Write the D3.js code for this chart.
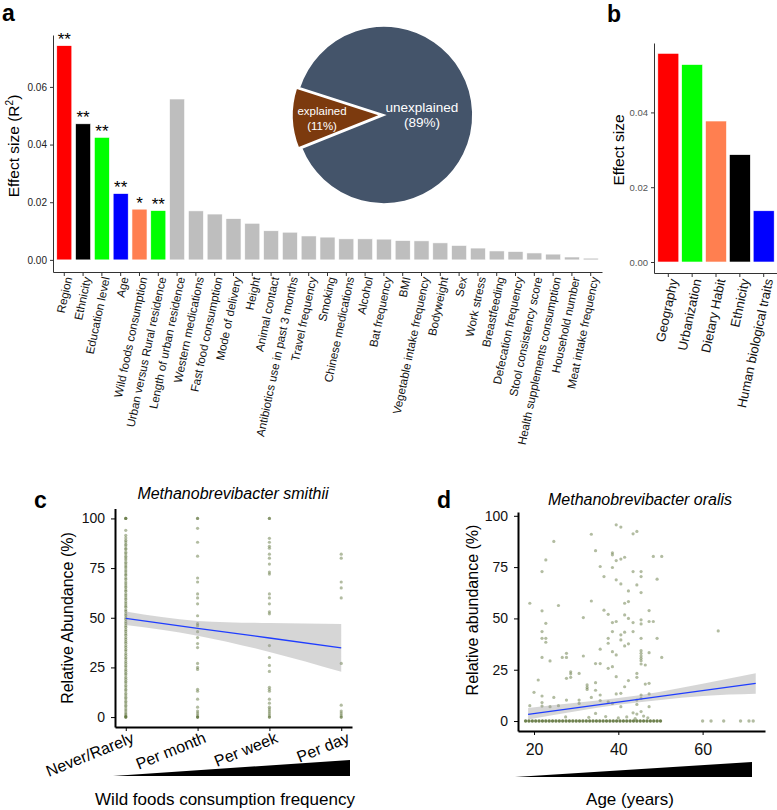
<!DOCTYPE html>
<html><head><meta charset="utf-8">
<script src="https://cdn.jsdelivr.net/npm/d3@7"></script>
<style>body{margin:0;background:#fff} text{font-family:"Liberation Sans",Arial,sans-serif}</style>
</head><body><svg id="fig" width="777" height="810"></svg>
<script>
// ---------- Panel a data ----------
const aCategories = ["Region","Ethnicity","Education level","Age","Wild foods consumption","Urban versus Rural residence","Length of urban residence","Western medications","Fast food consumption","Mode of delivery","Height","Animal contact","Antibiotics use in past 3 months","Travel frequency","Smoking","Chinese medications","Alcohol","Bat  frequency","BMI","Vegetable intake frequency","Bodyweight","Sex","Work stress","Breastfeeding","Defecation frequency","Stool consistency score","Health supplements consumption","Household number","Meat intake frequency"];
const aValues = [0.0743,0.0472,0.0425,0.0230,0.0176,0.0171,0.0558,0.0170,0.0159,0.0143,0.0127,0.0101,0.0096,0.0083,0.0079,0.0073,0.0073,0.0072,0.0067,0.0066,0.0059,0.0050,0.0041,0.0031,0.0029,0.0024,0.0020,0.0010,0.0006];
const aStars = ["**","**","**","**","*","**","","","","","","","","","","","","","","","","","","","","","","",""];
const aTicks = [0,0.02,0.04,0.06];
const pieLabels = ["explained","unexplained"];
const pieValues = [11,89];
// ---------- Panel b data ----------
const bCategories = ["Geography","Urbanization","Dietary Habit","Ethnicity","Human biological traits"];
const bValues = [0.0558,0.0528,0.0377,0.0287,0.0137];
const bTicks = [0,0.02,0.04];
// ---------- Panel c data ----------
const cCategories = ["Never/Rarely","Per month","Per week","Per day"];
const cNever = [100,100,100,94,91.5,90.2,89,88.1,87,86.2,85,84.3,83,82.2,81,80.1,79.2,78,77.1,76,75.2,74,73.1,72,71.3,70,69.2,68,67.1,66,65.2,64,63.3,62,61.1,60,59.2,58,57.1,56,55.3,54,53.2,52,51.1,50,49.2,48,47.1,46,45.2,44,43.1,42,41.2,40,39.1,38,37.2,36,35.1,34,33.2,32,31.1,30,29.2,28,27.1,26,25.2,24,23.1,22,21.2,20,19.1,18,17.2,16,15.1,14,13.2,12,11.1,10,9.2,8,7.1,6,5.2,4,3.1,2,1.2,0.5,0,0,0];
const cMonth = [100,100,95,88,81,70,68,62,60,57,51,47,46,43,40,37,35,27,25,24,14,13,9,5,3,2,1,0,0,0];
const cWeek = [100,100,90,88,86,85,82,80,77,73,72,62,60,57,53,52,36,30,26,23,15,14,13,9,7,5,4,3,2,1,0,0];
const cDay = [82,80,68,65,60,27,6,3,2,1,0,0];
const cFit = [49.7,44.7,39.8,34.8];
const cBandLow = [46.4,41.0,32.8,22.8];
const cBandHigh = [53.1,48.4,47.3,46.9];
const cTicks = [0,25,50,75,100];
// ---------- Panel d data ----------
const dPoints = [[19,57.4],[19,7.5],[20,14],[21,20],[21.9,72.8],[22.8,78.5],[21.9,53.7],[21.9,43.6],[21.9,40.3],[22.8,40.3],[22.8,47.6],[22.8,38.4],[21.9,31],[23.8,29.3],[21.9,12.2],[21.9,9],[21.9,7.3],[24.7,87.5],[24.7,11.5],[23.8,7],[25.8,56.3],[25.8,7.5],[26.7,31],[27.7,33],[27.7,31],[27.7,20.8],[27.7,10.2],[28.7,24],[28.7,23],[28.7,21.3],[30.7,23.2],[30.7,10.2],[30.7,8.6],[31.7,50.4],[31.7,31.7],[32.6,17.6],[32.6,16.4],[32.6,15.4],[33.6,91],[33.6,58.5],[33.6,11.5],[34.6,83],[34.6,28],[34.6,18.7],[34.6,15],[34.6,3.7],[35.7,75.3],[35.7,35],[35.7,28],[35.7,12.7],[35.7,10],[36.6,70.4],[36.6,54],[37.6,52],[37.6,40.3],[37.6,37.9],[37.6,25.7],[37.6,9.4],[38.6,82],[38.6,81],[38.6,74.8],[38.6,48],[38.6,43.6],[38.6,33.8],[38.6,26.5],[38.6,8.6],[39.5,95.6],[39.5,78.2],[39.5,68.8],[39.5,48.5],[39.5,32.2],[39.5,21.6],[39.5,13.2],[40.6,94.5],[40.6,78.9],[40.6,66.8],[40.6,42],[40.6,39.5],[40.6,13.5],[40.6,7],[41.5,79.8],[41.5,57.4],[41.5,51.7],[41.5,43.3],[41.5,36.6],[41.5,16.7],[42.4,58.2],[42.4,50],[42.4,37.6],[42.4,19.7],[42.4,63.4],[43.5,91.2],[43.5,72.8],[43.5,48],[43.5,43.6],[43.5,4],[44.4,92.4],[44.4,66.3],[44.4,23.2],[44.4,21.3],[44.4,10.2],[44.4,8.1],[44.4,3.4],[45.4,72.8],[45.4,70.4],[45.4,62.6],[45.4,49.3],[45.4,47.3],[45.4,40.3],[45.4,34.3],[45.4,33],[45.4,31.7],[45.4,30.6],[45.4,29.4],[45.4,27.8],[45.4,12.7],[45.4,11],[45.4,4.6],[46.4,27.3],[46.4,18],[47.3,53.8],[47.3,48.5],[47.3,33.3],[47.3,18.4],[47.3,13.2],[47.3,7],[48.3,80.2],[48.3,48.5],[49.2,69.1],[49.2,40.3],[50.3,80.2],[50.3,31],[63.7,43.9],[27.5,2],[33,1.8],[37,2.2],[40,1.5],[42,2],[44,1.2],[46,2.4],[47,1.6]];
const dZeroAges = [18,18.8,19.6,20.4,21.2,22,22.8,23.6,24.4,25.2,26,26.8,27.6,28.4,29.2,30,30.8,31.6,32.4,33.2,34,34.8,35.6,36.4,37.2,38,38.8,39.6,40.4,41.2,42,42.8,43.6,44.4,45.2,46,46.8,47.6,48.4,49.2,50,60,62,65,69,71,72];
const dFitAges = [18.6,72.6];
const dFit = [3.3,18.4];
const dBandAges = [18.6,30,40,50,60,72.6];
const dBandLow = [0.8,4.8,7.9,10.3,12.2,13.3];
const dBandHigh = [6.4,8.9,11.2,14.3,18.2,23.3];
const dTicksX = [20,40,60];
const dTicksY = [0,25,50,75,100];

// ---------- styles ----------
const aColorMap = {0:"#ff0000",1:"#000000",2:"#00ff00",3:"#0000ff",4:"#ff7f50",5:"#00ff00"};
const barGray = "#bebebe";
const bColors = ["#ff0000","#00ff00","#ff7f50","#000000","#0000ff"];
const ptColor = "#556b2f";
const fitColor = "#1f3dff";

const svg = d3.select("#fig");

function panelLabel(t,x,y){ svg.append("text").attr("x",x).attr("y",y).attr("font-size",23).attr("font-weight","bold").text(t); }

// ================= Panel a =================
{
  const xa = d3.scaleBand().domain(aCategories).range([53,602]).paddingInner(0.2).paddingOuter(0.2);
  const ya = d3.scaleLinear().domain([-0.0042,0.078]).range([272,35]);
  const g = svg.append("g");
  g.selectAll("rect").data(aValues).join("rect")
    .attr("x",(d,i)=>xa(aCategories[i])).attr("width",xa.bandwidth())
    .attr("y",d=>ya(d)).attr("height",d=>ya(0)-ya(d))
    .attr("fill",(d,i)=>aColorMap[i]||barGray).attr("stroke","#fff").attr("stroke-width",0.6);
  g.selectAll("text.star").data(aStars).join("text").attr("class","star")
    .attr("x",(d,i)=>xa(aCategories[i])+xa.bandwidth()/2).attr("y",(d,i)=>ya(aValues[i])-0.5)
    .attr("text-anchor","middle").attr("font-size",17).text(d=>d);
  const ax = g.append("g").attr("transform","translate(0,272)")
    .call(d3.axisBottom(xa).tickSize(4).tickSizeOuter(0));
  ax.select(".domain").attr("stroke","#333");
  ax.selectAll(".tick line").attr("stroke","#333");
  ax.selectAll("text").attr("font-size",11.6).attr("fill","#111").attr("text-anchor","end")
    .attr("transform","translate(4,5) rotate(-78)").attr("x",0).attr("y",0).attr("dy","0.35em");
  const ay = g.append("g").attr("transform","translate(53,0)")
    .call(d3.axisLeft(ya).tickValues(aTicks).tickFormat(d3.format(".2f")).tickSize(3).tickSizeOuter(0));
  ay.select(".domain").attr("stroke","#333");
  ay.selectAll(".tick line").attr("stroke","#333");
  ay.selectAll("text").attr("font-size",10).attr("fill","#222");
  const yt = svg.append("text").attr("transform","translate(19,146) rotate(-90)").attr("text-anchor","middle").attr("font-size",15.5);
  yt.append("tspan").text("Effect size (R");
  yt.append("tspan").attr("font-size",10).attr("dy",-6).text("2");
  yt.append("tspan").attr("dy",6).text(")");
  panelLabel("a",2,21);

  // pie
  const cx=384, cy=115, r=89;
  const a0 = 248.2*Math.PI/180;
  const pie = d3.pie().sort(null).startAngle(a0).endAngle(a0+2*Math.PI);
  const arcs = pie(pieValues);
  const arc = d3.arc().innerRadius(0).outerRadius(r);
  const pieColors = ["#7c3a0e","#44546a"];
  const pg = svg.append("g").attr("transform",`translate(${cx},${cy})`);
  pg.selectAll("path").data(arcs).join("path")
    .attr("d",arc).attr("fill",(d,i)=>pieColors[i]).attr("stroke","#fff").attr("stroke-width",1.8)
    .attr("transform",(d,i)=>{ if(i!==0) return null; const m=(d.startAngle+d.endAngle)/2; return `translate(${3*Math.sin(m)},${-3*Math.cos(m)})`; });
  const labR = [62,38], fs=[11.5,13.5];
  arcs.forEach((d,i)=>{
    const c = d3.arc().innerRadius(labR[i]).outerRadius(labR[i]).centroid(d);
    const t = pg.append("text").attr("text-anchor","middle").attr("fill","#fff").attr("font-size",fs[i]);
    t.append("tspan").attr("x",c[0]).attr("y",c[1]-2).text(pieLabels[i]);
    t.append("tspan").attr("x",c[0]).attr("y",c[1]+13).text("("+pieValues[i]+"%)");
  });
}

// ================= Panel b =================
{
  const xb = d3.scaleBand().domain(bCategories).range([654,778]).paddingInner(0.12).paddingOuter(0.16);
  const yb = d3.scaleLinear().domain([-0.00294,0.05856]).range([273,43]);
  const g = svg.append("g");
  g.selectAll("rect").data(bValues).join("rect")
    .attr("x",(d,i)=>xb(bCategories[i])).attr("width",xb.bandwidth())
    .attr("y",d=>yb(d)).attr("height",d=>yb(0)-yb(d))
    .attr("fill",(d,i)=>bColors[i]).attr("stroke","#fff").attr("stroke-width",0.6);
  const ax = g.append("g").attr("transform","translate(0,273)")
    .call(d3.axisBottom(xb).tickSize(4).tickSizeOuter(0));
  ax.select(".domain").attr("stroke","#333");
  ax.selectAll(".tick line").attr("stroke","#333");
  ax.selectAll("text").attr("font-size",13).attr("fill","#111").attr("text-anchor","end")
    .attr("transform","translate(5,6) rotate(-78)").attr("x",0).attr("y",0).attr("dy","0.35em");
  const ay = g.append("g").attr("transform","translate(654,0)")
    .call(d3.axisLeft(yb).tickValues(bTicks).tickFormat(d3.format(".2f")).tickSize(3).tickSizeOuter(0));
  ay.select(".domain").attr("stroke","#333");
  ay.selectAll(".tick line").attr("stroke","#333");
  ay.selectAll("text").attr("font-size",9.5).attr("fill","#555");
  svg.append("text").attr("transform","translate(624,150) rotate(-90)").attr("text-anchor","middle").attr("font-size",15.5).text("Effect size");
  panelLabel("b",607,22);
}

// ================= Panel c =================
{
  const xc = d3.scaleLinear().domain([0.85,4.15]).range([115,352]);
  const yc = d3.scaleLinear().domain([-5,105]).range([727,508.5]);
  const g = svg.append("g");
  const band = d3.area().x((d,i)=>xc(i+1)).y0((d,i)=>yc(cBandLow[i])).y1((d,i)=>yc(cBandHigh[i])).curve(d3.curveMonotoneX);
  const cols = [cNever,cMonth,cWeek,cDay];
  cols.forEach((arr,k)=>{
    g.append("g").selectAll("circle").data(arr).join("circle")
      .attr("cx",xc(k+1)).attr("cy",d=>yc(d)).attr("r",1.6)
      .attr("fill",ptColor).attr("fill-opacity",0.45);
  });
  g.append("path").datum(cFit).attr("d",band).attr("fill","#999").attr("fill-opacity",0.4);
  g.append("path").datum(cFit).attr("d",d3.line().x((d,i)=>xc(i+1)).y(d=>yc(d)))
    .attr("fill","none").attr("stroke",fitColor).attr("stroke-width",1.3);
  const ax = g.append("g").attr("transform","translate(0,727)")
    .call(d3.axisBottom(xc).tickValues([1,2,3,4]).tickFormat(d=>cCategories[d-1]).tickSize(4).tickSizeOuter(0));
  ax.select(".domain").attr("stroke","#000").attr("stroke-width",2);
  ax.selectAll("text").attr("font-size",16).attr("fill","#000").attr("text-anchor","end")
    .attr("transform","translate(9,15) rotate(-22)").attr("x",0).attr("y",0).attr("dy","0");
  const ay = g.append("g").attr("transform","translate(115,0)")
    .call(d3.axisLeft(yc).tickValues(cTicks).tickSize(4).tickSizeOuter(0));
  ay.select(".domain").attr("stroke","#000").attr("stroke-width",2);
  ay.selectAll("text").attr("font-size",14).attr("fill","#111").attr("dx",-3);
  const x0=xc.range()[0]-2, x1=xc.range()[1]-2;
  g.append("path").attr("d",`M${x0},776 L${x1},776 L${x1},760 Z`).attr("fill","#000");
  svg.append("text").attr("x",233).attr("y",499).attr("text-anchor","middle").attr("font-size",16).attr("font-style","italic").text("Methanobrevibacter smithii");
  svg.append("text").attr("transform","translate(73,618) rotate(-90)").attr("text-anchor","middle").attr("font-size",16).text("Relative Abundance (%)");
  svg.append("text").attr("x",225).attr("y",805).attr("text-anchor","middle").attr("font-size",17).text("Wild foods consumption frequency");
  panelLabel("c",34,508);
}

// ================= Panel d =================
{
  const xd = d3.scaleLinear().domain([16.2,74.8]).range([518,765]);
  const yd = d3.scaleLinear().domain([-4.85,101.85]).range([731,512]);
  const g = svg.append("g");
  g.append("g").selectAll("circle").data(dPoints).join("circle")
    .attr("cx",d=>xd(d[0])).attr("cy",d=>yd(d[1])).attr("r",1.6)
    .attr("fill",ptColor).attr("fill-opacity",0.45);
  g.append("g").selectAll("circle").data(dZeroAges).join("circle")
    .attr("cx",d=>xd(d)).attr("cy",yd(0)).attr("r",1.7)
    .attr("fill",ptColor).attr("fill-opacity",(d)=>d>55?0.45:0.85);
  const band = d3.area().x((d,i)=>xd(dBandAges[i])).y0((d,i)=>yd(dBandLow[i])).y1((d,i)=>yd(dBandHigh[i])).curve(d3.curveMonotoneX);
  g.append("path").datum(dBandAges).attr("d",band).attr("fill","#999").attr("fill-opacity",0.4);
  g.append("path").datum(dFit).attr("d",d3.line().x((d,i)=>xd(dFitAges[i])).y(d=>yd(d)))
    .attr("fill","none").attr("stroke",fitColor).attr("stroke-width",1.3);
  const ax = g.append("g").attr("transform","translate(0,731)")
    .call(d3.axisBottom(xd).tickValues(dTicksX).tickSize(4).tickSizeOuter(0));
  ax.select(".domain").attr("stroke","#000").attr("stroke-width",2);
  ax.selectAll("text").attr("font-size",16).attr("fill","#111").attr("dy","1.05em");
  const ay = g.append("g").attr("transform","translate(518,0)")
    .call(d3.axisLeft(yd).tickValues(dTicksY).tickSize(4).tickSizeOuter(0));
  ay.select(".domain").attr("stroke","#000").attr("stroke-width",2);
  ay.selectAll("text").attr("font-size",14).attr("fill","#111").attr("dx",-3);
  const x0=xd.range()[0]-3, x1=xd.range()[1]-13;
  g.append("path").attr("d",`M${x0},777 L${x1},777 L${x1},762 Z`).attr("fill","#000");
  svg.append("text").attr("x",640).attr("y",505).attr("text-anchor","middle").attr("font-size",16).attr("font-style","italic").text("Methanobrevibacter oralis");
  svg.append("text").attr("transform","translate(478,610) rotate(-90)").attr("text-anchor","middle").attr("font-size",16).text("Relative abundance (%)");
  svg.append("text").attr("x",630).attr("y",805).attr("text-anchor","middle").attr("font-size",17).text("Age (years)");
  panelLabel("d",437,508);
}
</script></body></html>
